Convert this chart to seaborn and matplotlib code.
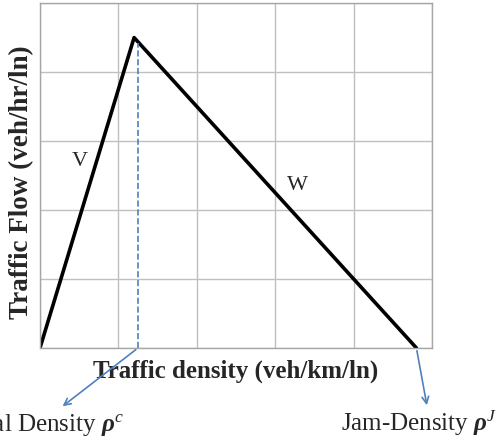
import matplotlib
matplotlib.use('Agg')
import matplotlib.pyplot as plt
import seaborn as sns
import pandas as pd

# triangular fundamental diagram (grid units)
density = [0, 1.2, 4.8]
flow = [0, 4.5, 0]
critical_x = 1.25
jam_x = 4.8

sns.set_theme(style='white')
plt.rcParams['font.family'] = ['Liberation Serif', 'DejaVu Serif']
plt.rcParams['mathtext.fontset'] = 'custom'
plt.rcParams['mathtext.rm'] = 'Liberation Serif'
plt.rcParams['mathtext.it'] = 'Liberation Serif:italic'
plt.rcParams['mathtext.bf'] = 'Liberation Serif:italic:bold'

df = pd.DataFrame({'density': density, 'flow': flow})

fig = plt.figure(figsize=(5.03, 4.41), dpi=100)
ax = fig.add_axes([0.0795, 0.211, 0.7795, 0.782])

sns.lineplot(data=df, x='density', y='flow', color='black', linewidth=2.6,
             sort=False, ax=ax)
ax.plot([critical_x, critical_x], [0, 4.42], linestyle='--', color='#4f81bd',
        linewidth=1.2)

ax.set_xlim(0, 5)
ax.set_ylim(0, 5)
ax.set_xticks(range(6))
ax.set_yticks(range(6))
ax.set_xticklabels([])
ax.set_yticklabels([])
ax.tick_params(length=0)
ax.grid(True, color='#bfbfbf', linewidth=1)
for s in ax.spines.values():
    s.set_color('#a6a6a6')
    s.set_linewidth(1)

ax.set_xlabel('Traffic density (veh/km/ln)', fontsize=18, fontweight='bold')
ax.set_ylabel('Traffic Flow (veh/hr/ln)', fontsize=19.5, fontweight='bold')
ax.xaxis.set_label_coords(0.5, -0.035, transform=ax.transAxes)
ax.xaxis.label.set_va('top')
ax.yaxis.set_label_coords(-0.015, 0.481, transform=ax.transAxes)

ax.text(0.51, 2.7, 'V', fontsize=16, ha='center', va='center')
ax.text(3.28, 2.35, 'W', fontsize=16, ha='center', va='center')

arrow = dict(arrowstyle='->', color='#4f81bd', linewidth=1.2)
ax.annotate('', xy=(0.26, -0.87), xytext=(critical_x, 0), arrowprops=arrow,
            annotation_clip=False)
ax.annotate('', xy=(4.94, -0.87), xytext=(jam_x, 0), arrowprops=arrow,
            annotation_clip=False)
ax.text(1.07, -1.12, r'Critical Density $\mathbf{\rho}^{c}$', fontsize=18,
        ha='right', va='center')
ax.text(4.84, -1.09, r'Jam-Density $\mathbf{\rho}^{J}$', fontsize=18,
        ha='center', va='center')

fig.savefig('out.png', dpi=100)
